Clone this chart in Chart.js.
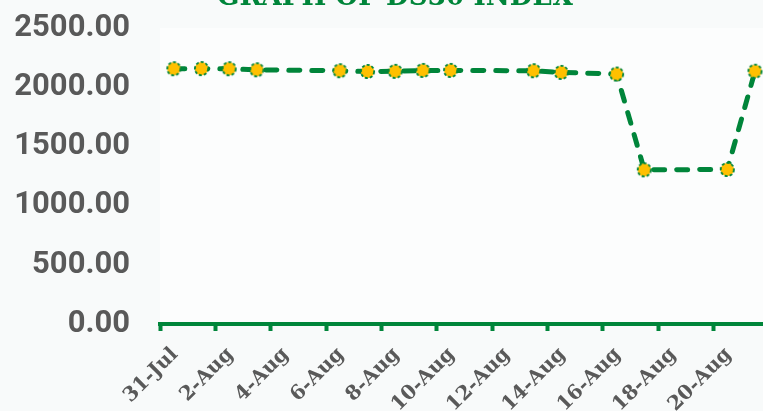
<!DOCTYPE html>
<html>
<head>
<meta charset="utf-8">
<script src="https://cdn.jsdelivr.net/npm/chart.js@4.4.0/dist/chart.umd.min.js"></script>
<style>
  html, body { margin: 0; padding: 0; background: #f8fafa; }
  #wrap { width: 763px; height: 411px; position: relative; }
</style>
</head>
<body>
<div id="wrap"><canvas id="c"></canvas></div>
<script>
// ---- data ----
const titleText = 'GRAPH OF DS30 INDEX';
const dates = ['2018-07-31','2018-08-01','2018-08-02','2018-08-03','2018-08-06','2018-08-07','2018-08-08',
               '2018-08-09','2018-08-10','2018-08-13','2018-08-14','2018-08-16','2018-08-17','2018-08-20','2018-08-21'];
const indexValues = [2156, 2157, 2156, 2147, 2139, 2133, 2134, 2142, 2142, 2139, 2125, 2111, 1302, 1305, 2135];
const tickLabels = ['31-Jul','2-Aug','4-Aug','6-Aug','8-Aug','10-Aug','12-Aug','14-Aug','16-Aug','18-Aug','20-Aug'];

const GREEN = '#00853a';
const GREY = '#595959';
const startMs = Date.parse(dates[0] + 'T00:00:00Z');
const dayOffset = d => Math.round((Date.parse(d + 'T00:00:00Z') - startMs) / 86400000);
const points = dates.map((d, i) => ({ x: dayOffset(d), y: indexValues[i] }));

// marker image: gold disc with dashed green outline
function makeMarker() {
  const s = 17, c = document.createElement('canvas');
  c.width = s; c.height = s;
  const g = c.getContext('2d');
  g.beginPath();
  g.arc(s / 2, s / 2, 6.6, 0, Math.PI * 2);
  g.fillStyle = '#ffc000';
  g.fill();
  g.setLineDash([3, 2]);
  g.lineWidth = 1.8;
  g.strokeStyle = GREEN;
  g.stroke();
  return c;
}
const marker = makeMarker();

const bgPlugin = {
  id: 'bg',
  beforeDraw(chart) {
    const { ctx, chartArea: a } = chart;
    ctx.save();
    ctx.fillStyle = '#f8fafa';
    ctx.fillRect(0, 0, chart.width, chart.height);
    ctx.fillStyle = '#fcfdfd';
    ctx.fillRect(a.left, a.top, a.right - a.left, a.bottom - a.top);
    ctx.restore();
  },
  afterDraw(chart) {
    const ctx = chart.ctx;
    ctx.save();
    ctx.fillStyle = GREEN;
    ctx.font = 'bold 27px "DejaVu Serif"';
    ctx.textAlign = 'center';
    ctx.textBaseline = 'alphabetic';
    ctx.fillText(titleText, 395, 5, 356);
    ctx.restore();
  }
};

new Chart(document.getElementById('c'), {
  type: 'line',
  data: {
    datasets: [{
      data: points,
      borderColor: GREEN,
      borderWidth: 5,
      borderDash: [11, 12],
      borderCapStyle: 'round',
      pointStyle: marker,
      pointRadius: 7,
      pointHoverRadius: 7,
      pointBackgroundColor: '#ffc000',
      pointBorderColor: GREEN,
      pointBorderWidth: 1.5,
      tension: 0,
      clip: false
    }]
  },
  options: {
    responsive: true,
    maintainAspectRatio: false,
    animation: false,
    layout: { autoPadding: false, padding: { top: 28, right: 0, left: 0, bottom: 0 } },
    plugins: { legend: { display: false }, tooltip: { enabled: false }, title: { display: false } },
    scales: {
      x: {
        type: 'linear',
        min: -0.5,
        max: 21.29,
        afterBuildTicks(scale) {
          scale.ticks = tickLabels.map((_, i) => ({ value: -0.5 + 2 * i }));
        },
        afterFit(scale) { scale.height = 87; scale.paddingLeft = 0; scale.paddingRight = 0; },
        grid: { display: true, drawOnChartArea: false, drawTicks: true, tickLength: 7, tickColor: GREEN, tickWidth: 4 },
        border: { display: true, color: GREEN, width: 4 },
        ticks: {
          autoSkip: false,
          minRotation: 45,
          maxRotation: 45,
          labelOffset: 15,
          padding: 12,
          color: GREY,
          font: { family: '"DejaVu Serif"', weight: 'bold', size: 20 },
          callback: (v, i) => tickLabels[i]
        }
      },
      y: {
        min: 0,
        max: 2500,
        afterFit(scale) { scale.width = 160; scale.paddingTop = 0; scale.paddingBottom = 0; },
        grid: { display: false },
        border: { display: false },
        ticks: {
          stepSize: 500,
          padding: 22,
          color: GREY,
          font: { family: 'Roboto', weight: 'bold', size: 31 },
          callback: v => Number(v).toFixed(2)
        }
      }
    }
  },
  plugins: [bgPlugin]
});
</script>
</body>
</html>
